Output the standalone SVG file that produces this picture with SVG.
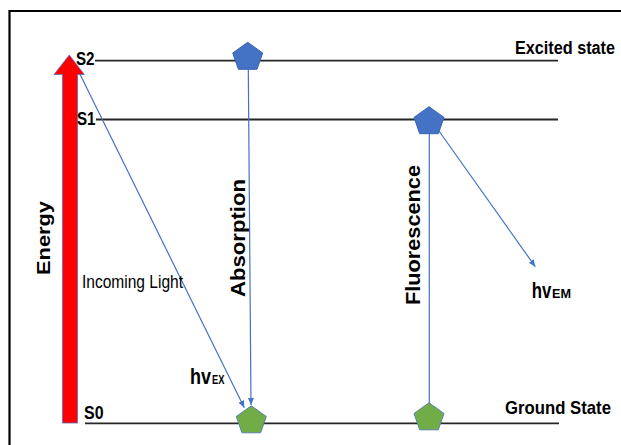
<svg xmlns="http://www.w3.org/2000/svg" width="621" height="445" viewBox="0 0 621 445">
<style>
.lvl{stroke:#262626;stroke-width:1.8;fill:none}
.conn{stroke:#4472C4;stroke-width:1.2;fill:none}
.lbl{font-family:"Liberation Sans",Arial,sans-serif;font-weight:bold;fill:#000}
.reg{font-family:"Liberation Sans",Arial,sans-serif;font-weight:normal;fill:#000}
.pb{fill:#4472C4;stroke:#3A64B0;stroke-width:1}
.pg{fill:#70AD47;stroke:#5B7FA8;stroke-width:1}
</style>
<defs>
<polygon id="pent" points="0,-14 15,-3.3 9.3,13 -9.3,13 -15,-3.3"/>
<marker id="ah" markerUnits="userSpaceOnUse" markerWidth="8" markerHeight="7" refX="7" refY="3" orient="auto">
<path d="M0,0 L7,3 L0,6 z" fill="#4472C4"/>
</marker>
</defs>
<rect width="621" height="445" fill="#fff"/>
<path d="M9.5,445 V11 H621" fill="none" stroke="#000" stroke-width="2.2"/>

<g id="levels">
<line class="lvl" x1="95" y1="60.7" x2="558" y2="60.7"/>
<line class="lvl" x1="96" y1="119.5" x2="558" y2="119.5"/>
<line class="lvl" x1="85" y1="423.3" x2="559" y2="423.3"/>
</g>

<g id="energy-arrow">
<polygon points="69.3,55 84.3,74.5 77.5,74.5 77.5,423 62.5,423 62.5,74.5 54,74.5" fill="#FF0000" stroke="#5A6FC0" stroke-width="0.8"/>
<text class="lbl" font-size="19" text-anchor="middle" textLength="74" lengthAdjust="spacingAndGlyphs" transform="translate(49.5,238) rotate(-90)">Energy</text>
</g>

<g id="connectors">
<line class="conn" x1="80" y1="74.3" x2="244.3" y2="407.7" marker-end="url(#ah)"/>
<line class="conn" x1="248.3" y1="69" x2="251" y2="405" marker-end="url(#ah)"/>
<line class="conn" x1="429.3" y1="134" x2="429.3" y2="403.5"/>
<line class="conn" x1="439" y1="131" x2="535.3" y2="266.7" marker-end="url(#ah)"/>
</g>

<g id="s2-node"><use href="#pent" class="pb" x="247.7" y="56.3"/></g>
<g id="s1-node"><use href="#pent" class="pb" x="429" y="120.7"/></g>
<g id="s0-node-a"><use href="#pent" class="pg" x="251.3" y="419.8"/></g>
<g id="s0-node-b"><use href="#pent" class="pg" x="429" y="416.8"/></g>

<g id="labels">
<text class="lbl" font-size="18.5" transform="translate(515,54) scale(0.877,1)">Excited state</text>
<text class="lbl" x="505" y="413.5" font-size="18.5" textLength="106" lengthAdjust="spacingAndGlyphs">Ground State</text>
<text class="lbl" x="76" y="65" font-size="19" textLength="18.5" lengthAdjust="spacingAndGlyphs">S2</text>
<text class="lbl" x="77" y="124.5" font-size="19" textLength="18.5" lengthAdjust="spacingAndGlyphs">S1</text>
<text class="lbl" x="84" y="418.5" font-size="19" textLength="19.5" lengthAdjust="spacingAndGlyphs">S0</text>
<text class="reg" x="82" y="287.5" font-size="18.5" textLength="101" lengthAdjust="spacingAndGlyphs">Incoming Light</text>
<text class="lbl" font-size="19.5" text-anchor="middle" textLength="118" lengthAdjust="spacingAndGlyphs" transform="translate(244.5,238) rotate(-90)">Absorption</text>
<text class="lbl" font-size="19.5" text-anchor="middle" textLength="140" lengthAdjust="spacingAndGlyphs" transform="translate(420,235) rotate(-90)">Fluorescence</text>
<text class="lbl" font-size="21.5" transform="translate(190,384.3) scale(0.84,1)">hv</text>
<text class="lbl" x="212" y="384.3" font-size="12.5" textLength="12.5" lengthAdjust="spacingAndGlyphs">EX</text>
<text class="lbl" font-size="21.5" transform="translate(531.7,297.7) scale(0.78,1)">hv</text>
<text class="lbl" x="552" y="297.7" font-size="12.5" textLength="19" lengthAdjust="spacingAndGlyphs">EM</text>
</g>
</svg>
